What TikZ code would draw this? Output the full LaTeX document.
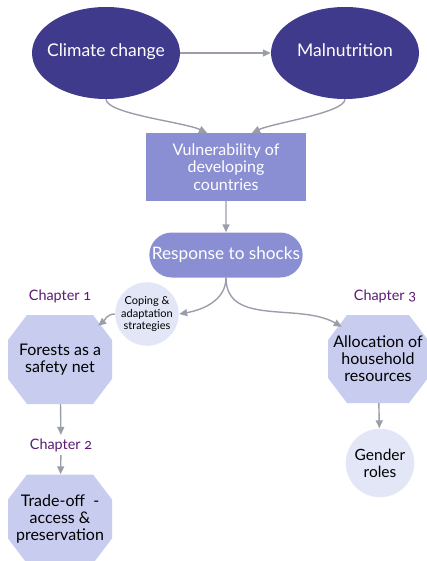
\documentclass[tikz,border=0pt]{standalone}
\usepackage{fontspec}
\setmainfont{Lato}[Numbers=OldStyle]
\usetikzlibrary{shapes.geometric, shapes.misc, arrows.meta, positioning}

\definecolor{darkviolet}{HTML}{3F3A8C}
\definecolor{boxblue}{HTML}{8A8FD4}
\definecolor{octblue}{HTML}{C8CDF0}
\definecolor{paleblue}{HTML}{E2E6F7}
\definecolor{arrowgray}{HTML}{9A9EA8}
\definecolor{chapterpurple}{HTML}{5B1A72}

% text that may stick out of its shape
\newcommand{\fitin}[2]{\makebox[#1]{\begin{tabular}{@{}c@{}}#2\end{tabular}}}

\tikzset{
  bigoval/.style={ellipse, fill=darkviolet, text=white, inner sep=0pt, minimum width=148pt, minimum height=92pt, font=\fontsize{17.5}{20}\selectfont},
  mainbox/.style={rectangle, fill=boxblue, text=white, minimum width=160pt, minimum height=68pt, align=center, font=\fontsize{16}{17.5}\selectfont},
  roundbox/.style={rounded rectangle, fill=boxblue, text=white, minimum width=160pt, minimum height=45pt, font=\fontsize{17.2}{19}\selectfont},
  octa/.style={rectangle, minimum width=104pt, minimum height=89pt, inner sep=0pt, align=center, font=\fontsize{16}{17}\selectfont,
    path picture={
      \fill[octblue] ([xshift=19pt]path picture bounding box.north west) -- ([xshift=-19pt]path picture bounding box.north east)
        -- ([yshift=-25pt]path picture bounding box.north east) -- ([yshift=25pt]path picture bounding box.south east)
        -- ([xshift=-19pt]path picture bounding box.south east) -- ([xshift=19pt]path picture bounding box.south west)
        -- ([yshift=25pt]path picture bounding box.south west) -- ([yshift=-25pt]path picture bounding box.north west) -- cycle;
    }},
  smallcirc/.style={circle, fill=paleblue, draw=white, minimum size=66pt, inner sep=0pt, align=center, font=\fontsize{15.5}{17}\selectfont},
  chapter/.style={text=chapterpurple, font=\fontsize{14.4}{16}\selectfont},
  link/.style={draw=arrowgray, line width=1.4pt, -{Triangle[length=8pt,width=7pt]}}
}

\begin{document}
\begin{tikzpicture}[x=1pt, y=-1pt]
        \useasboundingbox (0,0) rectangle (427,561);

        % Causes
        \node[bigoval] (climate) at (106,53) {\fitin{80pt}{Climate change}};
        \node[bigoval] (malnut) at (345,53) {\fitin{80pt}{Malnutrition}};

        % Centre
        \node[mainbox] (vulner) at (226,167) {Vulnerability of\\developing\\countries};
        \node[roundbox] (response) at (226,255) {Response to shocks};
        \node[smallcirc, minimum size=64pt, font=\fontsize{11}{12.5}\selectfont] (coping) at (147,314) {Coping \&\\adaptation\\strategies};

        % Chapters
        \node[octa] (forests) at (60,359.5) {Forests as a\\safety net};
        \node[octa] (tradeoff) at (60,519) {Trade-off~~-\\access \&\\preservation};
        \node[octa, minimum width=100pt, minimum height=88pt] (alloc) at (378,359) {Allocation of\\household\\resources};
        \node[smallcirc, minimum size=69pt] (gender) at (380,463) {Gender\\roles};

        % Labels
        \node[chapter] (chap1) at (60,296) {Chapter 1};
        \node[chapter] (chap2) at (61,445) {Chapter 2};
        \node[chapter] (chap3) at (385,296) {Chapter 3};

        % Arrows
        \draw[link] (climate) -- (malnut);
        \draw[link] (climate.south) to[out=-90, in=155, out looseness=0.35, in looseness=0.6] ([xshift=-19pt]vulner.north);
        \draw[link] (malnut.south) to[out=-90, in=25, out looseness=0.35, in looseness=0.6] ([xshift=26pt]vulner.north);
        \draw[link] (vulner) -- (response);
        \draw[link] (response.south) to[out=-90, in=10] (coping.east);
        \draw[link] (response.south) to[out=-90, in=150] ([xshift=14pt, yshift=-12pt]alloc.north west);
        \draw[link] (coping.west) to[out=180, in=40] ([xshift=-14pt, yshift=-11pt]forests.north east);
        \draw[link] (forests) -- (chap2);
        \draw[link] (chap2) -- (tradeoff);
        \draw[link] (alloc) -- (gender);
    \end{tikzpicture}
\end{document}
